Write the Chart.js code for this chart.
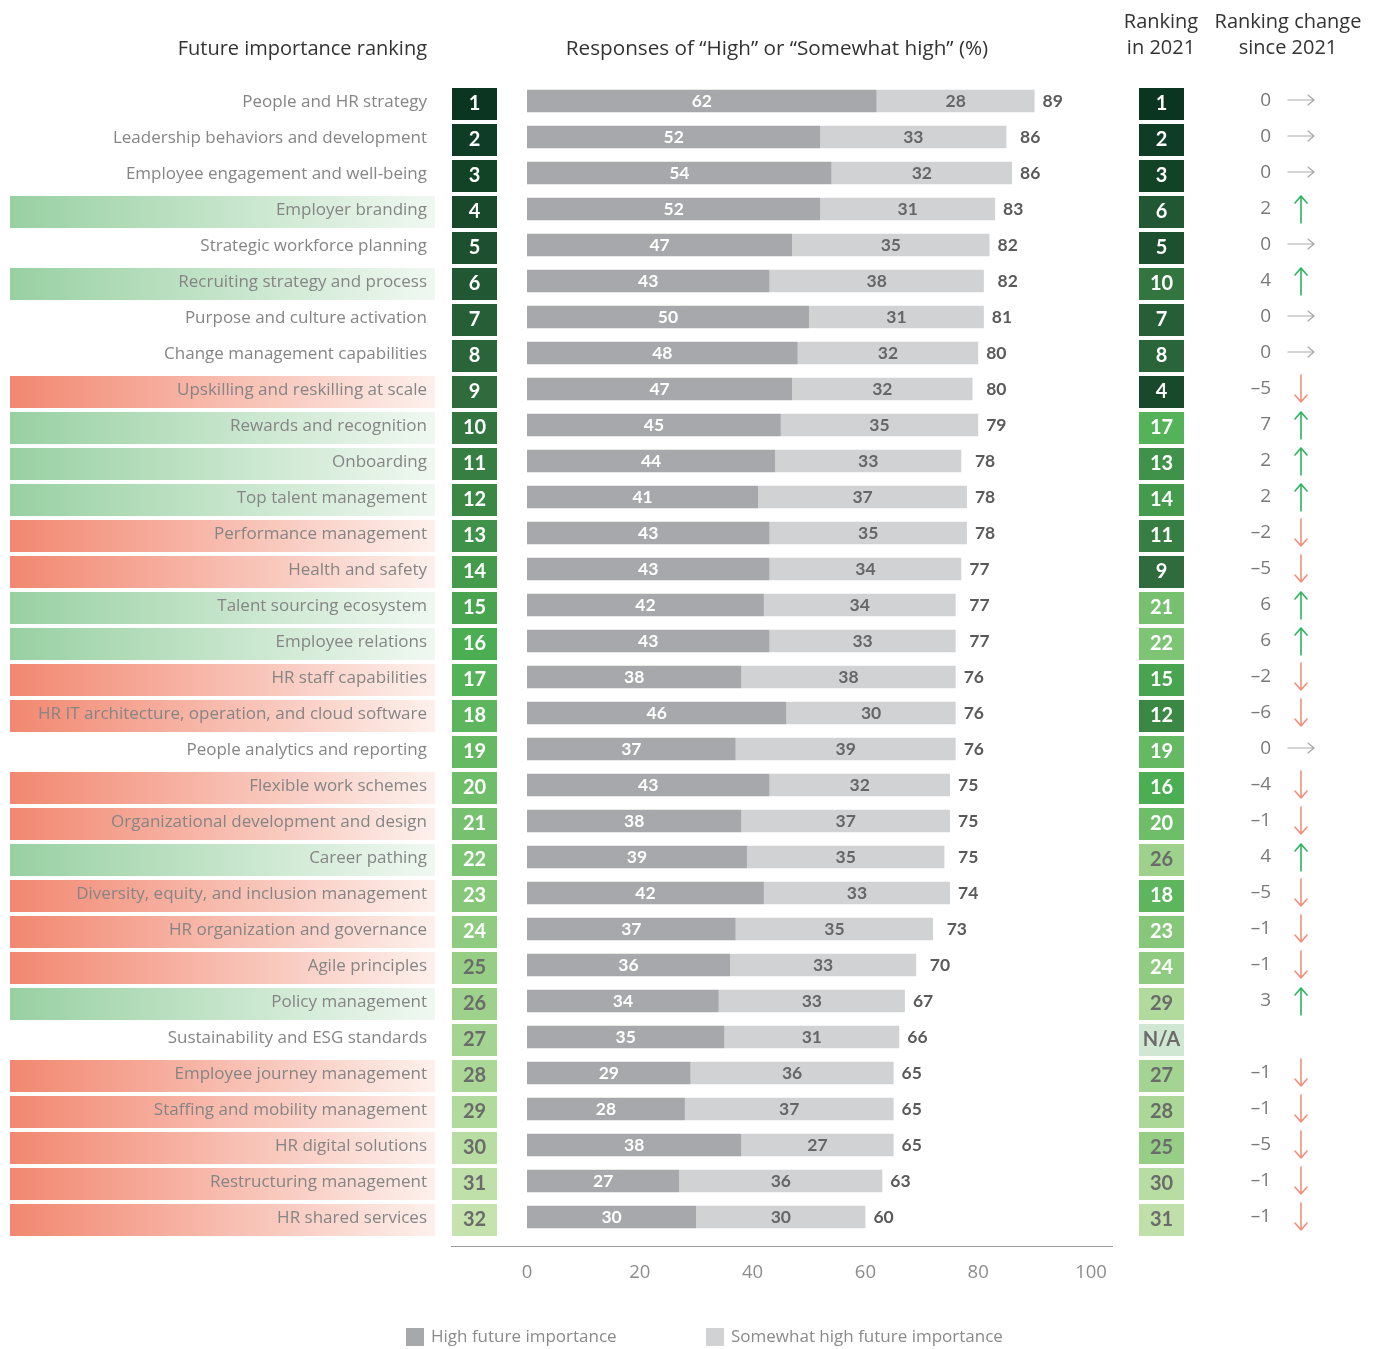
<!DOCTYPE html>
<html>
<head>
<meta charset="utf-8">
<script src="https://cdn.jsdelivr.net/npm/chart.js@4.4.0/dist/chart.umd.min.js"></script>
<style>
  html, body { margin: 0; padding: 0; background: #fff; }
  #wrap { width: 1378px; height: 1349px; }
</style>
</head>
<body>
<div id="wrap"><canvas id="chart" width="1378" height="1349"></canvas></div>
<script>
const categories = [
    'People and HR strategy', 'Leadership behaviors and development', 'Employee engagement and well-being',
    'Employer branding', 'Strategic workforce planning', 'Recruiting strategy and process',
    'Purpose and culture activation', 'Change management capabilities', 'Upskilling and reskilling at scale',
    'Rewards and recognition', 'Onboarding', 'Top talent management', 'Performance management',
    'Health and safety', 'Talent sourcing ecosystem', 'Employee relations', 'HR staff capabilities',
    'HR IT architecture, operation, and cloud software', 'People analytics and reporting',
    'Flexible work schemes', 'Organizational development and design', 'Career pathing',
    'Diversity, equity, and inclusion management', 'HR organization and governance', 'Agile principles',
    'Policy management', 'Sustainability and ESG standards', 'Employee journey management',
    'Staffing and mobility management', 'HR digital solutions', 'Restructuring management', 'HR shared services'
];
const highValues = [62, 52, 54, 52, 47, 43, 50, 48, 47, 45, 44, 41, 43, 43, 42, 43, 38, 46, 37, 43, 38, 39, 42, 37, 36, 34, 35, 29, 28, 38, 27, 30];
const somewhatValues = [28, 33, 32, 31, 35, 38, 31, 32, 32, 35, 33, 37, 35, 34, 34, 33, 38, 30, 39, 32, 37, 35, 33, 35, 33, 33, 31, 36, 37, 27, 36, 30];
const totalValues = [89, 86, 86, 83, 82, 82, 81, 80, 80, 79, 78, 78, 78, 77, 77, 77, 76, 76, 76, 75, 75, 75, 74, 73, 70, 67, 66, 65, 65, 65, 63, 60];
const rank2024 = [1, 2, 3, 4, 5, 6, 7, 8, 9, 10, 11, 12, 13, 14, 15, 16, 17, 18, 19, 20, 21, 22, 23, 24, 25, 26, 27, 28, 29, 30, 31, 32];
const rank2021 = [1, 2, 3, 6, 5, 10, 7, 8, 4, 17, 13, 14, 11, 9, 21, 22, 15, 12, 19, 16, 20, 26, 18, 23, 24, 29, null, 27, 28, 25, 30, 31];
const rankChange = [0, 0, 0, 2, 0, 4, 0, 0, -5, 7, 2, 2, -2, -5, 6, 6, -2, -6, 0, -4, -1, 4, -5, -1, -1, 3, null, -1, -1, -5, -1, -1];
const xTicks = [0, 20, 40, 60, 80, 100];
const seriesNames = ['High future importance', 'Somewhat high future importance'];

const DARK_BAR = '#a7a8ab';
const LIGHT_BAR = '#d1d2d4';
const LABEL_FONT = '"Open Sans", "Noto Sans", sans-serif';
const NUM_FONT = 'Lato, "Open Sans", sans-serif';

// green ramp for the rank boxes (rank -> colour)
const rampStops = [
    [1, [10, 53, 32]],
    [9, [47, 107, 60]],
    [16, [76, 174, 82]],
    [24, [143, 203, 128]],
    [32, [198, 227, 174]]
];

function rankColor(rank) {
    if (rank === null) return '#d0e7d3';
    for (let i = 0; i < rampStops.length - 1; i++) {
        const [r0, c0] = rampStops[i];
        const [r1, c1] = rampStops[i + 1];
        if (rank <= r1) {
            const t = (rank - r0) / (r1 - r0);
            const c = c0.map((v, k) => Math.round(v + (c1[k] - v) * t));
            return `rgb(${c[0]}, ${c[1]}, ${c[2]})`;
        }
    }
    return 'rgb(198, 227, 174)';
}

function drawRankBox(ctx, x, cy, rank) {
    ctx.fillStyle = rankColor(rank);
    ctx.fillRect(x, cy - 13, 45, 32);
    ctx.fillStyle = (rank !== null && rank <= 24) ? '#ffffff' : '#6b6b6b';
    ctx.font = `bold 20px ${NUM_FONT}`;
    ctx.textAlign = 'center';
    ctx.textBaseline = 'middle';
    ctx.fillText(rank === null ? 'N/A' : String(rank), x + 22.5, cy + 3);
}

function drawArrow(ctx, ax, cy, change) {
    ctx.save();
    ctx.lineCap = 'round';
    ctx.lineJoin = 'round';
    ctx.beginPath();
    if (change === 0) {
        ctx.strokeStyle = '#a9a9a9';
        ctx.lineWidth = 1.2;
        ctx.moveTo(ax - 13, cy - 1);
        ctx.lineTo(ax + 13, cy - 1);
        ctx.moveTo(ax + 7, cy - 6);
        ctx.lineTo(ax + 13, cy - 1);
        ctx.lineTo(ax + 7, cy + 4);
    } else if (change > 0) {
        ctx.strokeStyle = '#2eb35f';
        ctx.lineWidth = 1.6;
        ctx.moveTo(ax, cy + 14);
        ctx.lineTo(ax, cy - 13);
        ctx.moveTo(ax - 6, cy - 6);
        ctx.lineTo(ax, cy - 13);
        ctx.lineTo(ax + 6, cy - 6);
    } else {
        ctx.strokeStyle = '#f4907a';
        ctx.lineWidth = 1.6;
        ctx.moveTo(ax, cy - 14);
        ctx.lineTo(ax, cy + 13);
        ctx.moveTo(ax - 6, cy + 6);
        ctx.lineTo(ax, cy + 13);
        ctx.lineTo(ax + 6, cy + 6);
    }
    ctx.stroke();
    ctx.restore();
}

// everything around the bars: row labels, rank boxes, change column, headers
const tablePlugin = {
    id: 'tablePlugin',
    beforeDatasetsDraw(chart) {
        const ctx = chart.ctx;
        const yScale = chart.scales.y;
        ctx.save();

        // headers
        ctx.fillStyle = '#333333';
        ctx.font = `20px ${LABEL_FONT}`;
        ctx.textBaseline = 'middle';
        ctx.textAlign = 'right';
        ctx.fillText('Future importance ranking', 427, 49);
        ctx.textAlign = 'center';
        ctx.font = `20.7px ${LABEL_FONT}`;
        ctx.fillText('Responses of \u201cHigh\u201d or \u201cSomewhat high\u201d (%)', 777, 49);
        ctx.font = `20px ${LABEL_FONT}`;
        ctx.fillText('Ranking', 1161, 22);
        ctx.fillText('in 2021', 1161, 48);
        ctx.fillText('Ranking change', 1288, 22);
        ctx.fillText('since 2021', 1288, 48);

        categories.forEach((label, i) => {
            const cy = yScale.getPixelForValue(i);
            const change = rankChange[i];

            // gradient band behind the label
            if (change !== null && change !== 0) {
                const g = ctx.createLinearGradient(10, 0, 435, 0);
                if (change > 0) {
                    g.addColorStop(0, 'rgb(152, 208, 162)');
                    g.addColorStop(1, 'rgb(240, 248, 241)');
                } else {
                    g.addColorStop(0, 'rgb(242, 135, 112)');
                    g.addColorStop(1, 'rgb(253, 240, 236)');
                }
                ctx.fillStyle = g;
                ctx.fillRect(10, cy - 13, 425, 32);
            }

            ctx.fillStyle = '#858585';
            ctx.font = `17px ${LABEL_FONT}`;
            ctx.textAlign = 'right';
            ctx.textBaseline = 'middle';
            ctx.fillText(label, 427, cy + 1);

            drawRankBox(ctx, 452, cy, rank2024[i]);
            drawRankBox(ctx, 1139, cy, rank2021[i]);

            if (change !== null) {
                ctx.fillStyle = '#7a7a7a';
                ctx.font = `19px ${LABEL_FONT}`;
                ctx.textAlign = 'right';
                ctx.textBaseline = 'middle';
                ctx.fillText(change < 0 ? '\u2013' + Math.abs(change) : String(change), 1271, cy);
                drawArrow(ctx, 1301, cy, change);
            }
        });

        // axis line
        ctx.strokeStyle = '#9a9a9a';
        ctx.lineWidth = 1.2;
        ctx.beginPath();
        ctx.moveTo(451, 1246.5);
        ctx.lineTo(1113, 1246.5);
        ctx.stroke();

        // legend
        ctx.font = `17px ${LABEL_FONT}`;
        ctx.textAlign = 'left';
        ctx.textBaseline = 'middle';
        [[406, DARK_BAR], [706, LIGHT_BAR]].forEach(([x, col], k) => {
            ctx.fillStyle = col;
            ctx.fillRect(x, 1328, 18, 18);
            ctx.fillStyle = '#8a8a8a';
            ctx.fillText(seriesNames[k], x + 25, 1337);
        });
        ctx.restore();
    },
    afterDatasetsDraw(chart) {
        const ctx = chart.ctx;
        const xScale = chart.scales.x;
        const high = chart.getDatasetMeta(0).data;
        const some = chart.getDatasetMeta(1).data;
        ctx.save();
        ctx.font = `bold 17.5px ${NUM_FONT}`;
        ctx.textAlign = 'center';
        ctx.textBaseline = 'middle';
        categories.forEach((_, i) => {
            const h = high[i];
            const s = some[i];
            ctx.fillStyle = '#ffffff';
            ctx.fillText(String(highValues[i]), (h.x + h.base) / 2, h.y);
            ctx.fillStyle = '#666666';
            ctx.fillText(String(somewhatValues[i]), (s.x + s.base) / 2, s.y);
            ctx.textAlign = 'left';
            ctx.fillStyle = '#5a5a5a';
            const endX = Math.max(s.x, xScale.getPixelForValue(totalValues[i]));
            ctx.fillText(String(totalValues[i]), endX + 8, s.y);
            ctx.textAlign = 'center';
        });
        ctx.restore();
    }
};

const ctx = document.getElementById('chart').getContext('2d');
new Chart(ctx, {
    type: 'bar',
    data: {
        labels: categories,
        datasets: [
            {
                label: seriesNames[0],
                data: highValues,
                backgroundColor: DARK_BAR,
                barPercentage: 0.62,
                categoryPercentage: 1
            },
            {
                label: seriesNames[1],
                data: somewhatValues,
                backgroundColor: LIGHT_BAR,
                barPercentage: 0.62,
                categoryPercentage: 1
            }
        ]
    },
    options: {
        indexAxis: 'y',
        responsive: false,
        animation: false,
        devicePixelRatio: 1,
        layout: {
            padding: { left: 527, right: 287, top: 83, bottom: 54 }
        },
        scales: {
            x: {
                stacked: true,
                min: 0,
                max: 100,
                afterFit: (scale) => { scale.height = 60; },
                afterBuildTicks: (scale) => { scale.ticks = xTicks.map(v => ({ value: v })); },
                grid: { display: false, drawTicks: false },
                border: { display: false },
                ticks: {
                    padding: 27,
                    color: '#8c8c8c',
                    font: { family: 'Open Sans', size: 18.5 }
                }
            },
            y: {
                stacked: true,
                display: false
            }
        },
        plugins: {
            legend: { display: false },
            tooltip: { enabled: false }
        }
    },
    plugins: [tablePlugin]
});
</script>
</body>
</html>
